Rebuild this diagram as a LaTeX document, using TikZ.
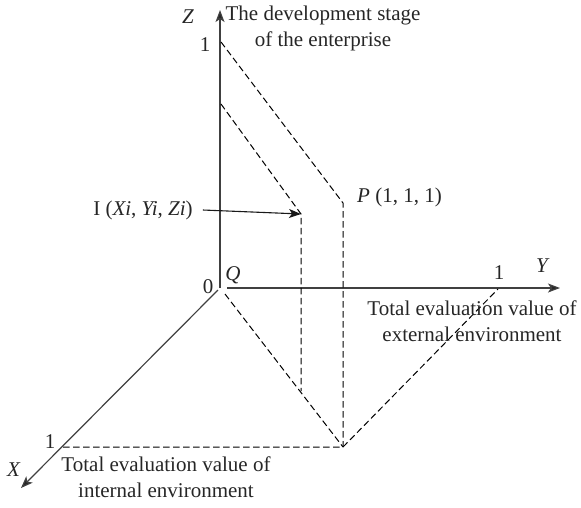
\documentclass[tikz,border=0pt]{standalone}
\usepackage{fontspec}
\setmainfont{Liberation Serif}
\usetikzlibrary{arrows.meta}
\begin{document}
\begin{tikzpicture}[x=1pt,y=-1pt,
  axis/.style={draw=black!75, line width=1.2pt, -{Stealth[length=12pt,width=9pt,inset=3pt,fill=black!85]}},
  pointer/.style={draw=black!90, line width=1.1pt, -{Stealth[length=12pt,width=9pt,inset=3pt]}},
  guide/.style={draw=black, line width=1pt, dash pattern=on 6.5pt off 3.5pt},
  lbl/.style={font=\fontsize{21}{26}\selectfont, inner sep=0pt, align=center, text=black!85},
]
\useasboundingbox (0,0) rectangle (581,507);

% reference points of the unit cube sketch
\coordinate (O) at (220,288);
\coordinate (Ztip) at (220,10);
\coordinate (Ystart) at (227,288);
\coordinate (Ytip) at (560,288);
\coordinate (Xstart) at (218,290);
\coordinate (Xtip) at (21,488);
\coordinate (Z1) at (221,42);
\coordinate (P) at (343,203);
\coordinate (Zi) at (221,104);
\coordinate (I) at (301,214);
\coordinate (F) at (301,391);
\coordinate (B) at (343,447);
\coordinate (X1) at (63,447);
\coordinate (Y1) at (498,289);
\coordinate (Ob) at (225,294);

% axes
\draw[axis] (O) -- (Ztip);
\draw[axis] (Ystart) -- (Ytip);
\draw[axis] (Xstart) -- (Xtip);

% dashed construction lines
\draw[guide] (Z1) -- (P) -- (B);
\draw[guide] (Zi) -- (I) -- (F);
\draw[guide] (Ob) -- (B);
\draw[guide] (X1) -- (B) -- (Y1);

% labels
\node[lbl] (zlab) at (188,17) {\textit{Z}};
\node[lbl] (zcap) at (323,28) {The development stage\\of the enterprise};
\node[lbl] (zone) at (205,45) {1};
\node[lbl] (ilab) at (143,210) {I (\textit{Xi}, \textit{Yi}, \textit{Zi})};
\node[lbl, anchor=west] (plab) at (357,197) {\textit{P} (1, 1, 1)};
\node[lbl] (qlab) at (233,275) {\textit{Q}};
\node[lbl] (olab) at (208,287) {0};
\node[lbl] (ylab) at (543,266) {\textit{Y}};
\node[lbl] (yone) at (499,273) {1};
\node[lbl] (ycap) at (472,321) {Total evaluation value of\\external environment};
\node[lbl] (xcap) at (166,477) {Total evaluation value of\\internal environment};
\node[lbl] (xone) at (50,442) {1};
\node[lbl] (xlab) at (14,470) {\textit{X}};

% pointer to the sample point I
\draw[pointer] ([xshift=10pt]ilab.east) -- (I);
\end{tikzpicture}
\end{document}
